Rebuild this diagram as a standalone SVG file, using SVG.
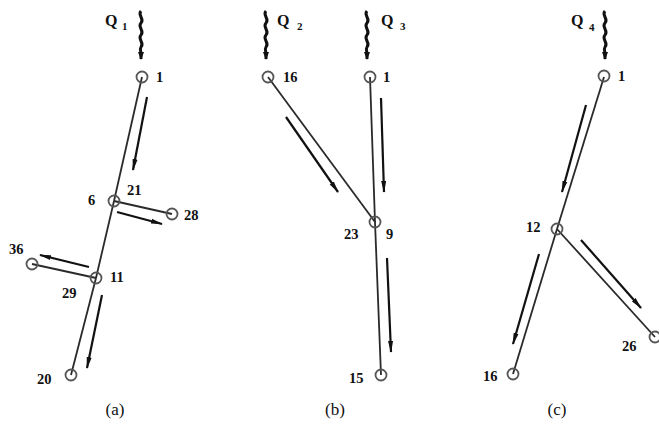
<svg xmlns="http://www.w3.org/2000/svg" width="659" height="430" viewBox="0 0 659 430">
<defs>
<marker id="ah" viewBox="0 0 12 6" refX="11" refY="3" markerWidth="12" markerHeight="6" markerUnits="userSpaceOnUse" orient="auto">
<path d="M0 0.5 L12 3 L0 5.5 Z" fill="#111"/>
</marker>
<marker id="wh" viewBox="0 0 8 6" refX="7" refY="3" markerWidth="8" markerHeight="6" markerUnits="userSpaceOnUse" orient="auto">
<path d="M0 0 L8 3 L0 6 Z" fill="#111"/>
</marker>
<style>
.e{stroke:#2a2a2a;stroke-width:1.8;fill:none}
.a{stroke:#111;stroke-width:2.2;fill:none;marker-end:url(#ah)}
.w{stroke:#111;stroke-width:3;fill:none;marker-end:url(#wh)}
.n{stroke:#555;stroke-width:1.8;fill:none}
text{font-family:"Liberation Serif","DejaVu Serif",serif;font-weight:bold;fill:#111}
.l{font-size:14.5px}
.q{font-size:16px}
.s{font-size:11px}
.c{font-size:17px;font-weight:normal}
</style>
</defs>
<rect width="659" height="430" fill="#fff"/>
<g id="connectors">
<line class="e" x1="142" y1="77" x2="114" y2="201"/>
<line class="e" x1="114" y1="201" x2="96" y2="278"/>
<line class="e" x1="96" y1="278" x2="71" y2="375"/>
<line class="e" x1="114" y1="201" x2="172" y2="214"/>
<line class="e" x1="96" y1="278" x2="32" y2="264"/>
<line class="a" x1="147" y1="97" x2="133" y2="170"/>
<line class="a" x1="117" y1="212" x2="162" y2="224"/>
<line class="a" x1="89" y1="267" x2="40" y2="255"/>
<line class="a" x1="102" y1="295" x2="87" y2="368"/>
<line class="e" x1="268" y1="77" x2="375" y2="222"/>
<line class="e" x1="370" y1="77" x2="375" y2="222"/>
<line class="e" x1="375" y1="222" x2="381" y2="375"/>
<line class="a" x1="286" y1="117" x2="338" y2="192"/>
<line class="a" x1="381" y1="98" x2="384" y2="192"/>
<line class="a" x1="387" y1="258" x2="391" y2="352"/>
<line class="e" x1="604" y1="77" x2="557" y2="229"/>
<line class="e" x1="557" y1="229" x2="513" y2="374"/>
<line class="e" x1="557" y1="229" x2="655" y2="337"/>
<line class="a" x1="586" y1="105" x2="562" y2="192"/>
<line class="a" x1="581" y1="240" x2="641" y2="308"/>
<line class="a" x1="539" y1="254" x2="513" y2="344"/>
<path class="w" d="M141 11 c-4 4 4 8 0 12 c-4 4 4 8 0 12 c-4 4 4 8 0 12 c-2 3 1 6 0 9 l0 3"/>
<path class="w" d="M266 11 c-4 4 4 8 0 12 c-4 4 4 8 0 12 c-4 4 4 8 0 12 c-2 3 1 6 0 9 l0 3"/>
<path class="w" d="M367 11 c-4 4 4 8 0 12 c-4 4 4 8 0 12 c-4 4 4 8 0 12 c-2 3 1 6 0 9 l0 3"/>
<path class="w" d="M605 11 c-4 4 4 8 0 12 c-4 4 4 8 0 12 c-4 4 4 8 0 12 c-2 3 1 6 0 9 l0 3"/>
</g>
<g id="Q1"><text class="q" x="105" y="26">Q</text><text class="s" x="122" y="30">1</text></g>
<g id="Q2"><text class="q" x="277" y="26">Q</text><text class="s" x="297" y="30">2</text></g>
<g id="Q3"><text class="q" x="381" y="26">Q</text><text class="s" x="400" y="30">3</text></g>
<g id="Q4"><text class="q" x="571" y="26">Q</text><text class="s" x="589" y="31">4</text></g>
<g id="a1"><circle class="n" cx="142" cy="77" r="5.5"/><text class="l" x="156" y="82">1</text></g>
<g id="a6"><circle class="n" cx="114" cy="201" r="5.5"/><text class="l" x="88" y="205">6</text><text class="l" x="127" y="195">21</text></g>
<g id="a28"><circle class="n" cx="172" cy="214" r="5.5"/><text class="l" x="184" y="220">28</text></g>
<g id="a11"><circle class="n" cx="96" cy="278" r="5.5"/><text class="l" x="110" y="282">11</text><text class="l" x="62" y="298">29</text></g>
<g id="a36"><circle class="n" cx="32" cy="264" r="5.5"/><text class="l" x="9" y="254">36</text></g>
<g id="a20"><circle class="n" cx="71" cy="375" r="5.5"/><text class="l" x="37" y="384">20</text></g>
<g id="b16"><circle class="n" cx="268" cy="77" r="5.5"/><text class="l" x="283" y="82">16</text></g>
<g id="b1"><circle class="n" cx="370" cy="77" r="5.5"/><text class="l" x="383" y="82">1</text></g>
<g id="b9"><circle class="n" cx="375" cy="222" r="5.5"/><text class="l" x="344" y="239">23</text><text class="l" x="386" y="239">9</text></g>
<g id="b15"><circle class="n" cx="381" cy="375" r="5.5"/><text class="l" x="349" y="383">15</text></g>
<g id="c1"><circle class="n" cx="604" cy="76" r="5.5"/><text class="l" x="618" y="81">1</text></g>
<g id="c12"><circle class="n" cx="557" cy="229" r="5.5"/><text class="l" x="526" y="232">12</text></g>
<g id="c16"><circle class="n" cx="513" cy="374" r="5.5"/><text class="l" x="483" y="381">16</text></g>
<g id="c26"><circle class="n" cx="655" cy="337" r="5.5"/><text class="l" x="622" y="351">26</text></g>
<g id="captions">
<text class="c" x="115" y="415" text-anchor="middle">(a)</text>
<text class="c" x="335" y="415" text-anchor="middle">(b)</text>
<text class="c" x="557" y="415" text-anchor="middle">(c)</text>
</g>
</svg>
